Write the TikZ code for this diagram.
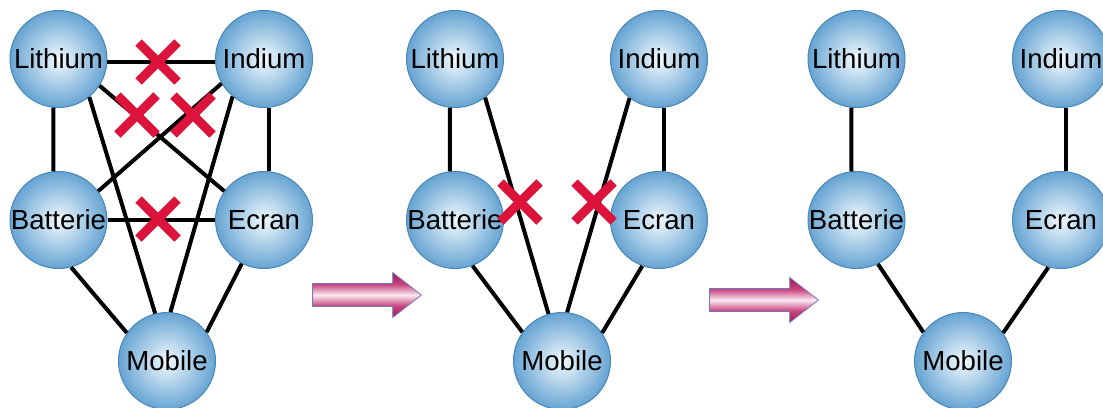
\documentclass[tikz,border=0pt]{standalone}
\usepackage{fontspec}
\setmainfont{Liberation Sans}
\usetikzlibrary{shapes.misc, shapes.arrows}
\definecolor{ballblue}{HTML}{66A4D3}
\definecolor{balllight}{HTML}{F2F9FD}
\definecolor{ballrim}{HTML}{4A86B6}
\definecolor{crossred}{HTML}{DC143C}
\definecolor{arrowdark}{HTML}{9A1A56}
\definecolor{arrowpink}{HTML}{C8457F}
\definecolor{arrowlight}{HTML}{FBEAF2}
\definecolor{arrowrim}{HTML}{7A74B8}
\pgfdeclareverticalshading{pinkbar}{100bp}{color(0bp)=(arrowdark); color(25bp)=(arrowdark); color(38bp)=(arrowpink); color(50bp)=(arrowlight); color(62bp)=(arrowpink); color(75bp)=(arrowdark); color(100bp)=(arrowdark)}

\begin{document}
\begin{tikzpicture}[
        x=0.5pt, y=-0.5pt,
        elem/.style={circle, draw=ballrim, line width=0.5pt, inner color=balllight, outer color=ballblue, minimum size=48.5pt, inner sep=0pt, font=\fontsize{13.8}{16}\selectfont},
        link/.style={line width=2pt},
        cross/.style={cross out, draw=crossred, line width=4.5pt, minimum size=15pt, inner sep=0pt},
        bigarrow/.style={single arrow, anchor=west, draw=arrowrim, line width=0.4pt, shading=pinkbar, inner xsep=0pt, inner ysep=5.5pt, single arrow head extend=5.5pt, single arrow tip angle=76, minimum height=54.5pt}
    ]
    \useasboundingbox (0,0) rectangle (1103,407);
    \node[elem] (li1) at (58.5,59) {Lithium};
    \node[elem] (in1) at (264,59) {Indium};
    \node[elem] (ba1) at (58.5,220) {Batterie};
    \node[elem] (ec1) at (264,220) {Ecran};
    \node[elem] (mo1) at (167,361) {Mobile};
    \draw[link] (li1.-4) -- (in1.184);
    \draw[link] (li1.-96) -- (ba1.96);
    \draw[link] (in1.-84) -- (ec1.84);
    \draw[link] (ba1) -- (ec1);
    \draw[link] (li1.-33) -- (ec1.144);
    \draw[link] (in1.210) -- (ba1.36);
    \draw[link] (li1.-51) -- (mo1.104);
    \draw[link] (in1.230) -- (mo1.86);
    \draw[link] (ba1.-75) -- (mo1.145);
    \draw[link] (ec1.-117) -- (mo1.36);
    \node[cross] (x1) at (158,62) {};
    \node[cross] (x2) at (137,115) {};
    \node[cross] (x3) at (193,115) {};
    \node[cross] (x4) at (158,219) {};

    \node[bigarrow] (ar1) at (312,295) {};

    \node[elem] (li2) at (455,59) {Lithium};
    \node[elem] (in2) at (659,59) {Indium};
    \node[elem] (ba2) at (455,220) {Batterie};
    \node[elem] (ec2) at (659,220) {Ecran};
    \node[elem] (mo2) at (562,361) {Mobile};
    \draw[link] (li2.-96) -- (ba2.96);
    \draw[link] (in2.-84) -- (ec2.84);
    \draw[link] (li2.-52) -- (mo2.106);
    \draw[link] (in2.233) -- (mo2.84);
    \draw[link] (ba2.-69) -- (mo2.144);
    \draw[link] (ec2.250) -- (mo2.35);
    \node[cross] (x5) at (520,202) {};
    \node[cross] (x6) at (594,202) {};

    \node[bigarrow] (ar2) at (709,300) {};

    \node[elem] (li3) at (856.5,59) {Lithium};
    \node[elem] (in3) at (1061,59) {Indium};
    \node[elem] (ba3) at (856.5,220) {Batterie};
    \node[elem] (ec3) at (1061,220) {Ecran};
    \node[elem] (mo3) at (963,361) {Mobile};
    \draw[link] (li3.-96) -- (ba3.96);
    \draw[link] (in3.-84) -- (ec3.84);
    \draw[link] (ba3.-64) -- (mo3.144);
    \draw[link] (ec3.255) -- (mo3.35);
\end{tikzpicture}
\end{document}
